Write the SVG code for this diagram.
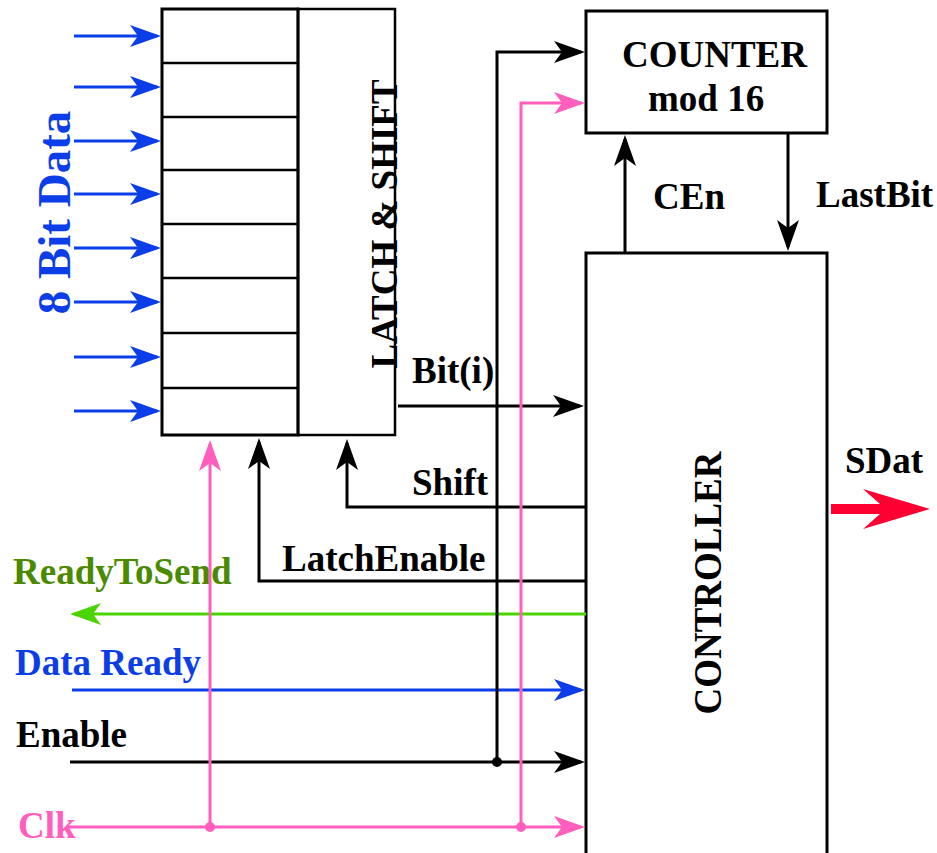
<svg xmlns="http://www.w3.org/2000/svg" width="937" height="853" viewBox="0 0 937 853">
<style>
.t{font-family:"Liberation Serif","Times New Roman",serif;font-weight:bold;font-size:37px;fill:#000}
.box{fill:#fff;stroke:#000;stroke-width:3}
.thin{fill:none;stroke:#000;stroke-width:2.5}
.k{fill:none;stroke:#000;stroke-width:3}
.b{fill:none;stroke:#0b3ee8;stroke-width:3}
.p{fill:none;stroke:#ff5ebc;stroke-width:3}
.g{fill:none;stroke:#4ad400;stroke-width:3}
</style>
<defs>
<marker id="ak" markerUnits="userSpaceOnUse" viewBox="-34 -12 36 24" refX="-4" refY="0" markerWidth="36" markerHeight="24" orient="auto"><path d="M0,0 L-31,-11 L-23,0 L-31,11 Z" fill="#000"/></marker>
<marker id="ab" markerUnits="userSpaceOnUse" viewBox="-34 -12 36 24" refX="-4" refY="0" markerWidth="36" markerHeight="24" orient="auto"><path d="M0,0 L-31,-11 L-23,0 L-31,11 Z" fill="#0b3ee8"/></marker>
<marker id="ap" markerUnits="userSpaceOnUse" viewBox="-34 -12 36 24" refX="-4" refY="0" markerWidth="36" markerHeight="24" orient="auto"><path d="M0,0 L-31,-11 L-23,0 L-31,11 Z" fill="#ff5ebc"/></marker>
<marker id="ag" markerUnits="userSpaceOnUse" viewBox="-34 -12 36 24" refX="-4" refY="0" markerWidth="36" markerHeight="24" orient="auto"><path d="M0,0 L-31,-11 L-23,0 L-31,11 Z" fill="#4ad400"/></marker>
</defs>
<rect width="937" height="853" fill="#fff"/>

<g id="latch">
<rect class="box" x="162" y="9" width="136" height="426"/>
<rect class="thin" x="298" y="9" width="97" height="426"/>
<path class="thin" d="M162,63H298M162,117H298M162,170H298M162,224H298M162,278H298M162,333H298M162,388H298"/>
<text class="t" transform="translate(397,224) rotate(-90)" text-anchor="middle">LATCH &amp; SHIFT</text>
</g>

<g id="counter">
<rect class="box" x="586" y="11" width="241" height="122"/>
<text class="t" x="622" y="67">COUNTER</text>
<text class="t" x="648" y="111">mod 16</text>
</g>

<g id="controller">
<rect class="box" x="586" y="253" width="241" height="620"/>
<text class="t" transform="translate(721,583) rotate(-90)" text-anchor="middle" textLength="263" lengthAdjust="spacingAndGlyphs" style="font-size:39px">CONTROLLER</text>
</g>

<g id="labels">
<text class="t" transform="translate(70,212.5) rotate(-90)" text-anchor="middle" style="font-size:47px;fill:#0b3ee8">8 Bit Data</text>
<text class="t" x="653" y="209">CEn</text>
<text class="t" x="816" y="207">LastBit</text>
<text class="t" x="412" y="383">Bit(i)</text>
<text class="t" x="412" y="495">Shift</text>
<text class="t" x="282" y="571">LatchEnable</text>
<text class="t" x="13" y="584" style="fill:#4a8a00">ReadyToSend</text>
<text class="t" x="15" y="675" style="fill:#0b3ee8">Data Ready</text>
<text class="t" x="16" y="747">Enable</text>
<text class="t" x="845" y="473">SDat</text>
</g>

<g id="connectors">
<path class="b" marker-end="url(#ab)" d="M74,36H157"/>
<path class="b" marker-end="url(#ab)" d="M74,87H157"/>
<path class="b" marker-end="url(#ab)" d="M74,141H157"/>
<path class="b" marker-end="url(#ab)" d="M74,194H157"/>
<path class="b" marker-end="url(#ab)" d="M74,248H157"/>
<path class="b" marker-end="url(#ab)" d="M74,302H157"/>
<path class="b" marker-end="url(#ab)" d="M74,357H157"/>
<path class="b" marker-end="url(#ab)" d="M74,411H157"/>
<path class="k" marker-end="url(#ak)" d="M398,406H580"/>
<path class="k" marker-end="url(#ak)" d="M586,507H347V443"/>
<path class="k" marker-end="url(#ak)" d="M586,581H259V442"/>
<path class="g" marker-end="url(#ag)" d="M586,614H74"/>
<path class="b" marker-end="url(#ab)" d="M72,690H581"/>
<path class="k" marker-end="url(#ak)" d="M70,762H581"/>
<path class="k" marker-end="url(#ak)" d="M497,762V52H581"/>
<path class="p" marker-end="url(#ap)" d="M68,827H581"/>
<path class="p" marker-end="url(#ap)" d="M521,827V103H581"/>
<path class="p" marker-end="url(#ap)" d="M210,827V444"/>
<path class="k" marker-end="url(#ak)" d="M625,253V139"/>
<path class="k" marker-end="url(#ak)" d="M788,133V247"/>
<circle cx="497" cy="762" r="5" fill="#000"/>
<circle cx="210" cy="827" r="5" fill="#ff5ebc"/>
<circle cx="521" cy="827" r="5" fill="#ff5ebc"/>
<path d="M831,504H880L863,489L930,509L863,529L880,514H831Z" fill="#ff0033"/>
</g>
<text class="t" x="18" y="838" style="fill:#ff5ebc">Clk</text>
</svg>
